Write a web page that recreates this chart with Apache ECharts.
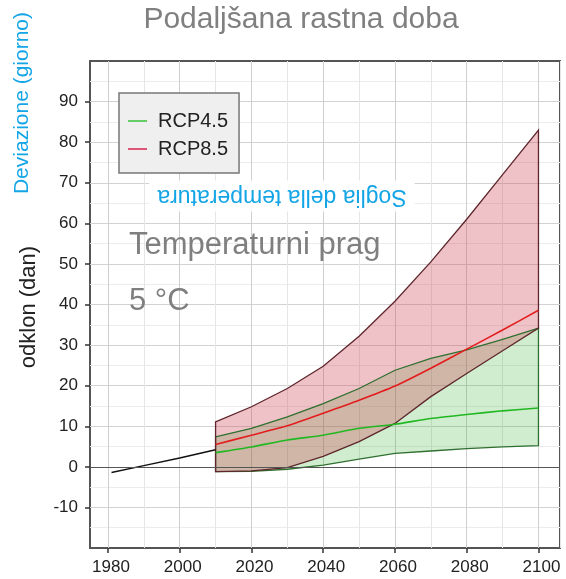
<!DOCTYPE html>
<html>
<head>
<meta charset="utf-8">
<script src="https://cdn.jsdelivr.net/npm/echarts@6/dist/echarts.min.js"></script>
<style>
html,body{margin:0;padding:0;background:#fff;}
#chart{width:566px;height:579px;}
</style>
</head>
<body>
<div id="chart"></div>
<script>
// scenario years (projections start in 2010)
var years = [2010, 2020, 2030, 2040, 2050, 2060, 2070, 2080, 2090, 2100];

// observed trend
var histYears = [1981, 1990, 2000, 2010];
var histValues = [-1.4, 0.3, 2.2, 4.2];

// RCP4.5
var rcp45Low  = [-1.2, -1.1, -0.6, 0.4, 1.9, 3.3, 3.9, 4.5, 4.9, 5.2];
var rcp45Mean = [3.5, 4.9, 6.6, 7.8, 9.5, 10.5, 11.9, 12.9, 13.8, 14.5];
var rcp45High = [7.4, 9.5, 12.3, 15.6, 19.3, 23.8, 26.7, 28.8, 31.4, 34.2];

// RCP8.5
var rcp85Low  = [-1.2, -1.0, -0.2, 2.6, 6.2, 10.7, 17.3, 23.0, 28.6, 34.2];
var rcp85Mean = [5.5, 7.8, 10.1, 13.2, 16.4, 19.9, 24.3, 29.0, 33.7, 38.6];
var rcp85High = [11.1, 14.8, 19.3, 24.8, 32.2, 40.8, 50.5, 61.0, 72.0, 83.0];

var xTickValues = [1980, 2000, 2020, 2040, 2060, 2080, 2100];
var yTickValues = [-10, 0, 10, 20, 30, 40, 50, 60, 70, 80, 90];

var FONT = '"Liberation Sans", Arial, sans-serif';

function pairs(xs, ys){
    return xs.map(function(x, i){ return [x, ys[i]]; });
}

// envelope between low and high, closed at both ends (fill or outline only)
function bandSeries(low, high, fill, stroke){
    return {
        type: 'custom', coordinateSystem: 'cartesian2d', silent: true,
        data: pairs(years, high),
        renderItem: function(params, api){
            if (params.dataIndex !== 0) return;
            var pts = [];
            for (var i = 0; i < years.length; i++) pts.push(api.coord([years[i], high[i]]));
            for (var j = years.length - 1; j >= 0; j--) pts.push(api.coord([years[j], low[j]]));
            return {
                type: 'polygon',
                shape: {points: pts},
                style: {fill: fill || 'none', stroke: stroke || 'none', lineWidth: 1.3}
            };
        }
    };
}

var chart = echarts.init(document.getElementById('chart'));

var series = [
    bandSeries(rcp45Low, rcp45High, 'rgba(40,175,40,0.22)', null),
    bandSeries(rcp85Low, rcp85High, 'rgba(205,70,85,0.33)', null),
    bandSeries(rcp45Low, rcp45High, null, '#2f6f2f'),
    bandSeries(rcp85Low, rcp85High, null, '#5e262c'),
    {
        name: 'RCP4.5', type: 'line', data: pairs(years, rcp45Mean),
        symbol: 'none', smooth: 0.2, lineStyle: {color: '#22b822', width: 1.6},
        itemStyle: {color: '#22b822'}
    },
    {
        name: 'RCP8.5', type: 'line', data: pairs(years, rcp85Mean),
        symbol: 'none', smooth: 0.2, lineStyle: {color: '#e31d1d', width: 1.6},
        itemStyle: {color: '#e31d1d'}
    },
    {
        name: 'hist', type: 'line', data: pairs(histYears, histValues),
        symbol: 'none', silent: true, lineStyle: {color: '#111', width: 1.5},
        markLine: {
            symbol: 'none', silent: true, label: {show: false},
            lineStyle: {color: '#555', width: 1, type: 'solid'},
            data: [{yAxis: 0}]
        }
    }
];

var option = {
    animation: false,
    grid: {
        left: 90, right: 6, top: 61, bottom: 31,
        show: true, borderColor: '#555', borderWidth: 2, backgroundColor: '#fff'
    },
    legend: {
        orient: 'vertical', left: 119, top: 93,
        selectedMode: false,
        backgroundColor: '#efefef', borderColor: '#777', borderWidth: 1.5,
        padding: [18, 11, 14, 9], itemGap: 8,
        icon: 'rect', itemWidth: 19, itemHeight: 2,
        textStyle: {fontSize: 20, color: '#222', fontFamily: FONT, padding: [0, 0, 0, 6]},
        data: [
            {name: 'RCP4.5', itemStyle: {color: '#66cc66'}},
            {name: 'RCP8.5', itemStyle: {color: '#dd5577'}}
        ]
    },
    xAxis: [
        {
            type: 'value', min: 1975, max: 2106, interval: 5,
            axisLine: {show: false}, axisTick: {show: false}, axisLabel: {show: false},
            splitLine: {show: true, lineStyle: {color: ['rgba(0,0,0,0)', '#cfcfcf', 'rgba(0,0,0,0)', '#e6e6e6'], width: 1}}
        },
        {
            type: 'value', min: 1975, max: 2106, position: 'bottom',
            axisLine: {show: false},
            axisTick: {show: true, length: 5, customValues: xTickValues, lineStyle: {color: '#333', width: 1.5}},
            axisLabel: {
                customValues: xTickValues, fontSize: 17, color: '#222', fontFamily: FONT,
                margin: 11, padding: [0, 0, 0, 6],
                formatter: function(v){ return String(v); }
            },
            splitLine: {show: false}
        }
    ],
    yAxis: {
        type: 'value', min: -20, max: 100, interval: 10,
        axisLine: {show: false},
        axisTick: {show: true, length: 5, customValues: yTickValues, lineStyle: {color: '#333', width: 1.5}},
        axisLabel: {customValues: yTickValues, fontSize: 17, color: '#222', fontFamily: FONT, margin: 12},
        splitLine: {show: true, lineStyle: {color: '#d2d2d2', width: 1}},
        minorTick: {show: false, splitNumber: 2},
        minorSplitLine: {show: true, lineStyle: {color: '#ececec', width: 1}}
    },
    graphic: [
        {
            type: 'text', x: 301, y: 20, z: 10,
            style: {text: 'Podaljšana rastna doba', font: '30px ' + FONT, fill: '#808080', align: 'center', verticalAlign: 'middle'}
        },
        {
            type: 'text', x: 22, y: 103, z: 10, rotation: Math.PI / 2,
            style: {text: 'Deviazione (giorno)', font: '21px ' + FONT, fill: '#14a5e6', align: 'center', verticalAlign: 'middle'}
        },
        {
            type: 'text', x: 29, y: 307, z: 10, rotation: Math.PI / 2,
            style: {text: 'odklon (dan)', font: '22px ' + FONT, fill: '#222', align: 'center', verticalAlign: 'middle'}
        },
        {
            type: 'text', x: 282, y: 196, z: 10, rotation: Math.PI,
            style: {
                text: 'Soglia della temperatura', font: '23px ' + FONT, fill: '#14a5e6',
                align: 'center', verticalAlign: 'middle',
                backgroundColor: '#fff', padding: [4, 8, 4, 8]
            }
        },
        {
            type: 'text', x: 129, y: 245, z: 10,
            style: {text: 'Temperaturni prag', font: '31px ' + FONT, fill: '#7f7f7f', align: 'left', verticalAlign: 'middle'}
        },
        {
            type: 'text', x: 129, y: 301, z: 10,
            style: {text: '5 °C', font: '31px ' + FONT, fill: '#7f7f7f', align: 'left', verticalAlign: 'middle'}
        }
    ],
    series: series
};

chart.setOption(option);
</script>
</body>
</html>
